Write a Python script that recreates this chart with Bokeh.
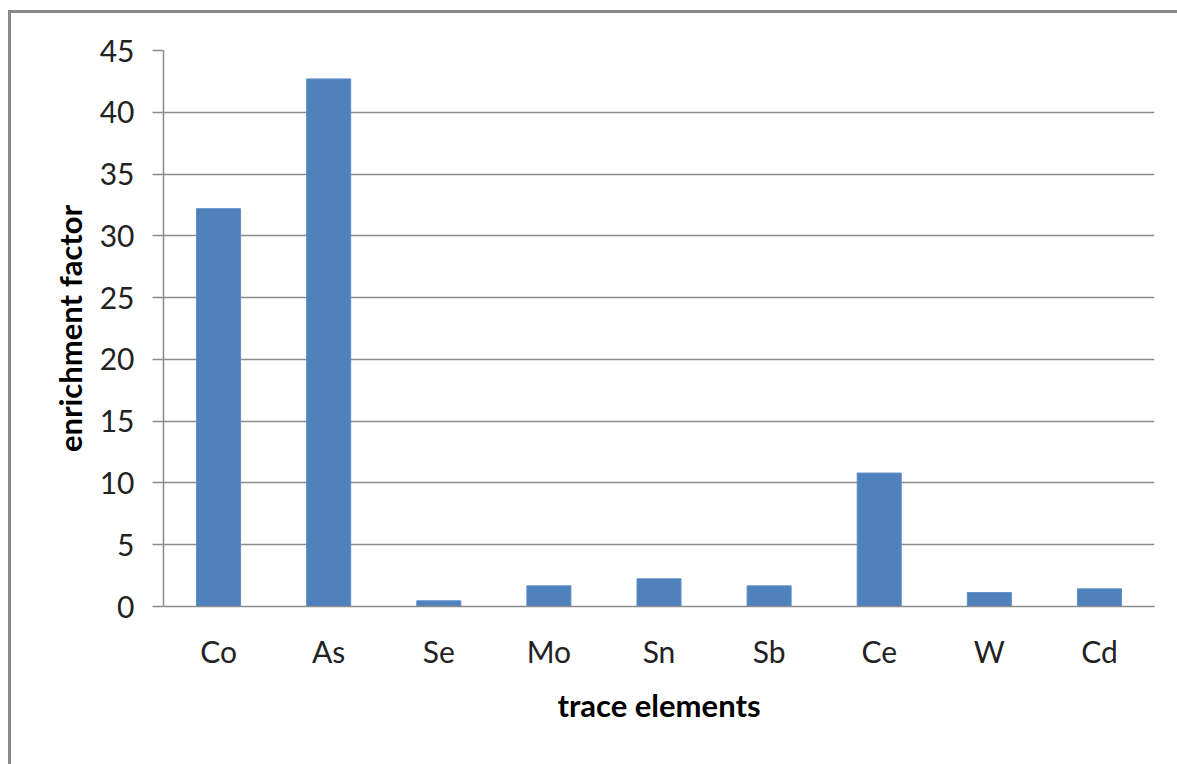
from bokeh.plotting import figure
from bokeh.models import ColumnDataSource, FixedTicker, Range1d
from bokeh.embed import file_html
from bokeh.resources import INLINE

elements = ["Co", "As", "Se", "Mo", "Sn", "Sb", "Ce", "W", "Cd"]
enrichment = [32.2, 42.7, 0.46, 1.67, 2.24, 1.67, 10.8, 1.13, 1.43]
y_ticks = [0, 5, 10, 15, 20, 25, 30, 35, 40, 45]

FONT = "Lato"
GRID = "#8c8c8c"

source = ColumnDataSource(data=dict(el=elements, val=enrichment))

p = figure(
    x_range=elements,
    y_range=Range1d(0, 45),
    width=1169, height=754,
    output_backend="svg",
    toolbar_location=None,
    min_border_left=152, min_border_right=26,
    min_border_top=37, min_border_bottom=161,
)
p.margin = (10, 0, 0, 8)
p.styles = {"border-top": "3px solid #898989", "border-left": "3px solid #898989",
            "box-sizing": "border-box"}

p.vbar(x="el", top="val", width=0.4, source=source,
       fill_color="#4f81bd", line_color="#5d8fca", line_width=1)

p.x_range.range_padding = 0
p.outline_line_color = None
p.background_fill_color = "white"
p.border_fill_color = "white"

p.xgrid.grid_line_color = None
p.ygrid.grid_line_color = GRID
p.ygrid.grid_line_width = 1.5
p.ygrid.ticker = FixedTicker(ticks=y_ticks)

p.yaxis.ticker = FixedTicker(ticks=y_ticks)
p.yaxis.axis_line_color = GRID
p.yaxis.axis_line_width = 1.5
p.yaxis.major_tick_line_color = GRID
p.yaxis.major_tick_line_width = 1.5
p.yaxis.major_tick_in = 0
p.yaxis.major_tick_out = 11
p.yaxis.minor_tick_line_color = None
p.yaxis.major_label_standoff = 18
p.yaxis.major_label_text_font = FONT
p.yaxis.major_label_text_font_size = "30px"
p.yaxis.major_label_text_color = "#222222"
p.yaxis.axis_label = "enrichment factor"
p.yaxis.axis_label_text_font = FONT
p.yaxis.axis_label_text_font_size = "31px"
p.yaxis.axis_label_text_font_style = "bold"
p.yaxis.axis_label_text_color = "black"
p.yaxis.axis_label_standoff = 8

p.xaxis.axis_line_color = GRID
p.xaxis.axis_line_width = 1.5
p.xaxis.major_tick_line_color = None
p.xaxis.minor_tick_line_color = None
p.xaxis.major_label_standoff = 20
p.xaxis.major_label_text_font = FONT
p.xaxis.major_label_text_font_size = "30px"
p.xaxis.major_label_text_color = "#222222"
p.xaxis.axis_label = "trace elements"
p.xaxis.axis_label_text_font = FONT
p.xaxis.axis_label_text_font_size = "31px"
p.xaxis.axis_label_text_font_style = "bold"
p.xaxis.axis_label_text_color = "black"
p.xaxis.axis_label_standoff = 14

open("out.html", "w").write(file_html(p, INLINE))
